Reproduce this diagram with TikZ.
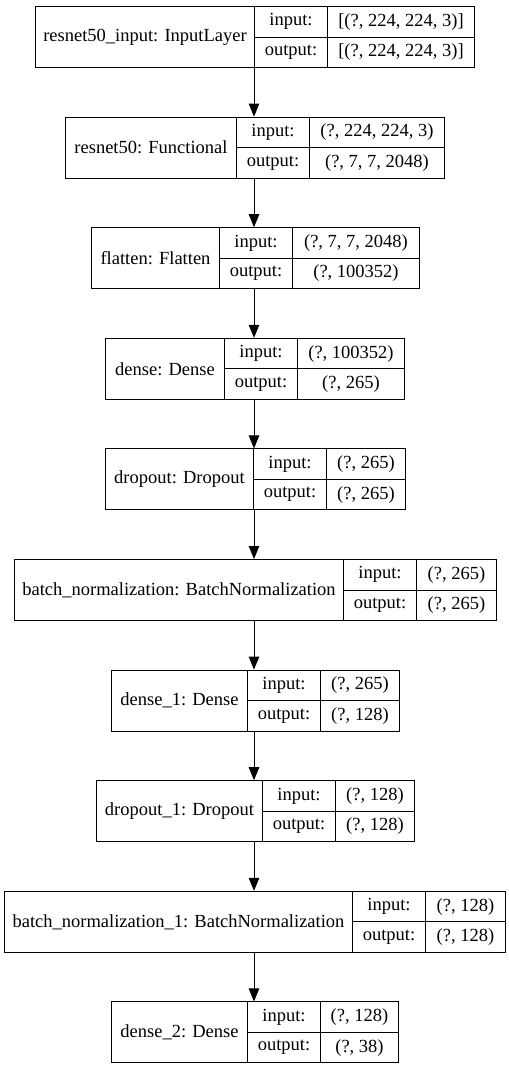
\documentclass[tikz,border=0pt]{standalone}
\usepackage{fontspec}
\setmainfont{Liberation Serif}
\usetikzlibrary{arrows.meta}
\tikzset{cell/.style={draw,rectangle,line width=1pt,inner sep=0pt,anchor=north west,
    font=\fontsize{18.5}{18.5}\selectfont},
  layer/.style={rectangle,inner sep=0pt,anchor=north west,minimum height=61pt},
  flow/.style={-{Triangle[length=13pt,width=10.5pt]},line width=1pt},
}
% #1 id, #2 top, #3 left, #4 split, #5 right, #6 name, #7 input, #8 output
\newcommand{\layerbox}[8]{%
  \node[layer,minimum width={(#5-#3)*1pt}] (#1) at (#3,-#2) {};
  \node[cell,minimum width={(#4-#3)*1pt},minimum height=61pt] (#1-name) at (#3,-#2) {#6};
  \node[cell,minimum width=73pt,minimum height=30.5pt] (#1-inl) at (#4,-#2) {input:};
  \node[cell,minimum width=73pt,minimum height=30.5pt] (#1-outl) at (#4,-#2-30.5) {output:};
  \node[cell,minimum width={(#5-#4-73)*1pt},minimum height=30.5pt] (#1-in) at (#4+73,-#2) {#7};
  \node[cell,minimum width={(#5-#4-73)*1pt},minimum height=30.5pt] (#1-out) at (#4+73,-#2-30.5) {#8};
}

\begin{document}
\begin{tikzpicture}[x=1pt,y=1pt]
  \useasboundingbox (0,0) rectangle (509,-1069);
  \coordinate (axis) at (254,0);

  \layerbox{input}{6}{35}{254}{474}{resnet50\_input: InputLayer}{[(?, 224, 224, 3)]}{[(?, 224, 224, 3)]}
  \layerbox{resnet}{116.6}{65}{236}{444}{resnet50: Functional}{(?, 224, 224, 3)}{(?, 7, 7, 2048)}
  \layerbox{flatten}{227.2}{91}{219}{419}{flatten: Flatten}{(?, 7, 7, 2048)}{(?, 100352)}
  \layerbox{dense}{337.8}{105}{224}{404}{dense: Dense}{(?, 100352)}{(?, 265)}
  \layerbox{dropout}{448.4}{105}{253}{405}{dropout: Dropout}{(?, 265)}{(?, 265)}
  \layerbox{bnorm}{559}{14}{343}{496}{batch\_normalization: BatchNormalization}{(?, 265)}{(?, 265)}
  \layerbox{denseA}{669.6}{111}{247}{399}{dense\_1: Dense}{(?, 265)}{(?, 128)}
  \layerbox{dropoutA}{780.2}{96}{262}{414}{dropout\_1: Dropout}{(?, 128)}{(?, 128)}
  \layerbox{bnormA}{890.8}{4}{352}{505}{batch\_normalization\_1: BatchNormalization}{(?, 128)}{(?, 128)}
  \layerbox{denseB}{1001.4}{111}{247}{398}{dense\_2: Dense}{(?, 128)}{(?, 38)}

  % connections
  \draw[flow] (input.south -| axis) -- (resnet.north -| axis);
  \draw[flow] (resnet.south -| axis) -- (flatten.north -| axis);
  \draw[flow] (flatten.south -| axis) -- (dense.north -| axis);
  \draw[flow] (dense.south -| axis) -- (dropout.north -| axis);
  \draw[flow] (dropout.south -| axis) -- (bnorm.north -| axis);
  \draw[flow] (bnorm.south -| axis) -- (denseA.north -| axis);
  \draw[flow] (denseA.south -| axis) -- (dropoutA.north -| axis);
  \draw[flow] (dropoutA.south -| axis) -- (bnormA.north -| axis);
  \draw[flow] (bnormA.south -| axis) -- (denseB.north -| axis);
\end{tikzpicture}
\end{document}
